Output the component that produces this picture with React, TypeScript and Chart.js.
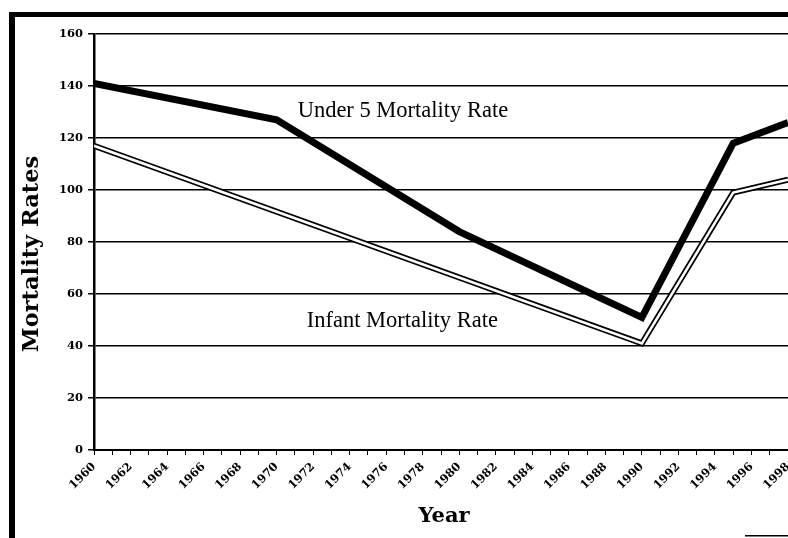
import React, { useEffect, useRef } from 'react';
import { Chart, registerables } from 'chart.js';

Chart.register(...registerables);

// Data
const under5Years = [1960, 1970, 1980, 1990, 1995, 1998];
const under5Rates = [141, 127, 84, 51, 118, 126];
const infantYears = [1960, 1990, 1995, 1998];
const infantRates = [117, 41, 99, 104];
const xLabelYears = [1960, 1962, 1964, 1966, 1968, 1970, 1972, 1974, 1976, 1978, 1980, 1982, 1984, 1986, 1988, 1990, 1992, 1994, 1996, 1998];
const yTickValues = [0, 20, 40, 60, 80, 100, 120, 140, 160];
const under5Label = 'Under 5 Mortality Rate';
const infantLabel = 'Infant Mortality Rate';
const xTitle = 'Year';
const yTitle = 'Mortality Rates';

const toPoints = (xs: number[], ys: number[]) => xs.map((x, i) => ({ x, y: ys[i] }));

const decorPlugin = {
  id: 'decor',
  afterDraw(chart: any) {
    const ctx = chart.ctx;
    const xs = chart.scales.x;
    const ys = chart.scales.y;
    ctx.save();
    // frame
    ctx.fillStyle = '#000';
    ctx.fillRect(9, 12, 6, 538 - 12);
    ctx.fillRect(9, 12, 788 - 9, 5);
    ctx.fillRect(745, 535, 43, 1.5);
    // annotations
    ctx.fillStyle = '#000';
    ctx.font = '22.5px "Liberation Serif"';
    ctx.textAlign = 'left';
    ctx.textBaseline = 'alphabetic';
    ctx.fillText(under5Label, xs.getPixelForValue(1971.15), ys.getPixelForValue(128.2));
    ctx.fillText(infantLabel, xs.getPixelForValue(1971.65), ys.getPixelForValue(47.5));
    // axis titles
    ctx.font = 'bold 21px "DejaVu Serif"';
    ctx.textAlign = 'center';
    ctx.textBaseline = 'middle';
    ctx.fillText(xTitle, 444, 517);
    ctx.translate(32, 254);
    ctx.rotate(-Math.PI / 2);
    ctx.font = 'bold 22.5px "DejaVu Serif"';
    ctx.fillText(yTitle, 0, 0);
    ctx.restore();
  },
};

export default function App() {
  const canvasRef = useRef<HTMLCanvasElement | null>(null);

  useEffect(() => {
    if (!canvasRef.current) return;
    const tickFont = { family: '"DejaVu Serif"', weight: 'bold' as const, size: 11.5 };
    const chart = new Chart(canvasRef.current, {
      type: 'line',
      data: {
        datasets: [
          {
            label: 'Infant inner',
            data: toPoints(infantYears, infantRates),
            borderColor: '#fff',
            borderWidth: 2.5,
            pointRadius: 0,
            tension: 0,
            borderJoinStyle: 'miter',
            order: 0,
          },
          {
            label: infantLabel,
            data: toPoints(infantYears, infantRates),
            borderColor: '#000',
            borderWidth: 6,
            pointRadius: 0,
            tension: 0,
            borderJoinStyle: 'miter',
            order: 1,
          },
          {
            label: under5Label,
            data: toPoints(under5Years, under5Rates),
            borderColor: '#000',
            borderWidth: 7,
            pointRadius: 0,
            tension: 0,
            borderJoinStyle: 'miter',
            order: 2,
          },
        ],
      },
      options: {
        animation: false,
        responsive: true,
        maintainAspectRatio: false,
        layout: { padding: { left: 0, top: 34, right: 0, bottom: 0 } },
        plugins: { legend: { display: false }, tooltip: { enabled: false } },
        scales: {
          x: {
            type: 'linear',
            min: 1960,
            max: 1998,
            afterFit: (s: any) => {
              s.height = 88;
              s.paddingLeft = 0;
              s.paddingRight = 0;
            },
            ticks: {
              stepSize: 1,
              autoSkip: false,
              minRotation: 45,
              maxRotation: 45,
              padding: 5,
              color: '#000',
              font: tickFont,
              callback: (v: any) => (xLabelYears.includes(Number(v)) ? String(v) : ''),
            },
            grid: { drawOnChartArea: false, drawTicks: true, tickLength: 5, color: '#000', lineWidth: 1 },
            border: { display: true, color: '#000', width: 2 },
          },
          y: {
            min: yTickValues[0],
            max: yTickValues[yTickValues.length - 1],
            afterFit: (s: any) => {
              s.width = 94;
              s.paddingTop = 0;
              s.paddingBottom = 0;
            },
            afterBuildTicks: (s: any) => {
              s.ticks = yTickValues.map((v) => ({ value: v }));
            },
            ticks: { padding: 5, color: '#000', font: tickFont },
            grid: { color: '#000', lineWidth: 1.5, drawTicks: true, tickLength: 6 },
            border: { display: true, color: '#000', width: 2.5 },
          },
        },
      },
      plugins: [decorPlugin],
    });
    return () => chart.destroy();
  }, []);

  return (
    <div style={{ position: 'fixed', left: 0, top: 0, width: 788, height: 538, background: '#fff' }}>
      <canvas ref={canvasRef} />
    </div>
  );
}
